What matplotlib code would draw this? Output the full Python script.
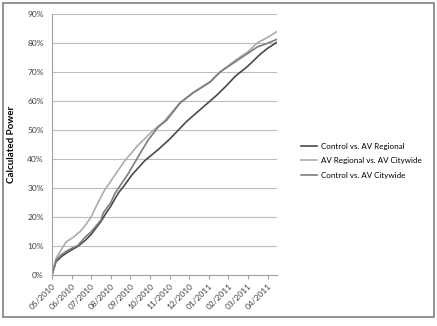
import matplotlib
matplotlib.use("Agg")
import matplotlib.pyplot as plt
from matplotlib.patches import Rectangle

plt.rcParams["font.family"] = ["Lato", "DejaVu Sans"]

# month labels on the x axis (x = months since 05/2010)
month_labels = ["05/2010", "06/2010", "07/2010", "08/2010", "09/2010", "10/2010",
                "11/2010", "12/2010", "01/2011", "02/2011", "03/2011", "04/2011"]

# Control vs. AV Regional
ctrl_reg_x = [0, 0.2, 0.5, 0.82, 1.33, 1.7, 1.99, 2.5, 2.7, 3.0, 3.38, 3.7, 4.07,
              4.74, 5.42, 6.02, 6.87, 7.55, 8.4, 8.93, 9.34, 9.95, 10.6, 11.0, 11.48]
ctrl_reg_y = [0, 4.6, 6.5, 8.0, 10.0, 12.0, 14.0, 18.5, 20.8, 23.8, 28.3, 31.0, 34.5,
              39.5, 43.3, 47.0, 53.0, 57.0, 62.0, 65.5, 68.5, 71.8, 76.0, 78.2, 80.3]

# AV Regional vs. AV Citywide
reg_city_x = [0, 0.1, 0.22, 0.46, 0.71, 1.07, 1.43, 1.68, 1.99, 2.2, 2.5, 2.7, 3.01,
              3.21, 3.72, 4.39, 5.09, 5.77, 6.53, 7.2, 8.06, 8.57, 9.34, 10.0, 10.46,
              11.02, 11.48]
reg_city_y = [0, 3.0, 6.0, 8.6, 11.4, 13.0, 15.0, 17.0, 20.0, 23.0, 27.0, 29.5, 32.5,
              34.5, 39.5, 44.8, 49.4, 53.4, 59.5, 63.0, 66.7, 70.0, 74.0, 77.0, 80.0,
              82.0, 84.0]

# Control vs. AV Citywide
ctrl_city_x = [0, 0.2, 0.46, 0.82, 1.33, 1.68, 1.99, 2.5, 2.62, 3.0, 3.21, 3.89, 4.39,
               4.9, 5.41, 5.85, 6.53, 7.2, 8.06, 8.57, 9.34, 10.0, 10.46, 11.02, 11.48]
ctrl_city_y = [0, 5.0, 7.0, 8.6, 10.3, 13.0, 14.9, 19.0, 21.5, 25.0, 28.2, 35.0, 40.8,
               46.5, 51.0, 53.4, 59.3, 62.8, 66.5, 70.0, 73.5, 76.5, 78.6, 80.0, 81.3]

fig = plt.figure(figsize=(4.37, 3.26), dpi=100)
ax = fig.add_axes([0.119, 0.156, 0.515, 0.801])

ax.plot(ctrl_reg_x, ctrl_reg_y, color="#4a4a4a", lw=1.2, label="Control vs. AV Regional")
ax.plot(reg_city_x, reg_city_y, color="#ababab", lw=1.2, label="AV Regional vs. AV Citywide")
ax.plot(ctrl_city_x, ctrl_city_y, color="#7d7d7d", lw=1.2, label="Control vs. AV Citywide")

ax.set_xlim(0, 11.48)
ax.set_ylim(0, 90)
ax.set_yticks(range(0, 91, 10))
ax.set_yticklabels([f"{v}%" for v in range(0, 91, 10)], fontsize=6, color="#404040")
ax.set_xticks(range(len(month_labels)))
ax.set_xticklabels(month_labels, fontsize=6, color="#404040", rotation=45,
                   ha="right", rotation_mode="anchor")
ax.tick_params(axis="y", length=0, pad=6)
ax.tick_params(axis="x", length=3, color="#a0a0a0", pad=2)
ax.grid(axis="y", color="#bdbdbd", lw=0.8)
ax.set_axisbelow(True)
for side in ("top", "right"):
    ax.spines[side].set_visible(False)
for side in ("left", "bottom"):
    ax.spines[side].set_color("#a0a0a0")
    ax.spines[side].set_linewidth(0.8)

ax.set_ylabel("Calculated Power", fontsize=7, fontweight="bold", labelpad=8)

fig.legend(loc="center left", bbox_to_anchor=(0.672, 0.507), frameon=False,
           fontsize=5.8, handlelength=2.0, handletextpad=0.5, labelspacing=0.95)

fig.add_artist(Rectangle((3 / 437, 9 / 326), 431 / 437, 314 / 326,
                         transform=fig.transFigure, fill=False,
                         edgecolor="#808080", lw=1.2))

fig.savefig("out.png", dpi=100)
